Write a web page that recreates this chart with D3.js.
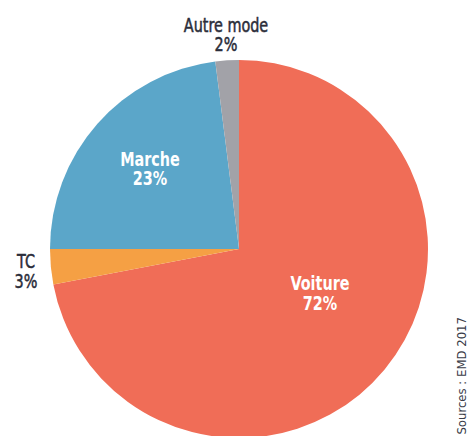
<!DOCTYPE html>
<html>
<head>
<meta charset="utf-8">
<script src="https://cdn.jsdelivr.net/npm/d3@7"></script>
<style>
  html, body { margin: 0; padding: 0; background: #ffffff; }
  svg { display: block; }
  text { font-family: "DejaVu Sans Condensed", "Liberation Sans Narrow", sans-serif; }
</style>
</head>
<body>
<svg id="chart" width="468" height="436"></svg>
<script>
// Modal share of trips (EMD 2017)
const modes   = ["Voiture", "TC", "Marche", "Autre mode"];
const shares  = [72, 3, 23, 2];
const colours = ["#f06d57", "#f5a044", "#5ba6c9", "#a2a2a8"];

const cx = 239, cy = 249, radius = 189;
const squeeze = 0.8;   // narrow the lettering horizontally

const svg = d3.select("#chart");

const data = modes.map((m, i) => ({ mode: m, value: shares[i], colour: colours[i] }));

const pie = d3.pie().value(d => d.value).sort(null);
const arc = d3.arc().innerRadius(0).outerRadius(radius);
const arcs = pie(data);

svg.append("g")
  .attr("transform", `translate(${cx},${cy})`)
  .selectAll("path")
  .data(arcs)
  .join("path")
  .attr("d", arc)
  .attr("fill", d => d.data.colour);

// Label anchors: inside for the large slices, outside for the small ones
const labelPos = {
  "Voiture":    { x: 320, y: 290, fill: "#ffffff", lead: 20 },
  "Marche":     { x: 150, y: 166, fill: "#ffffff", lead: 19 },
  "TC":         { x: 26,  y: 268, fill: "#2b2d3a", lead: 20 },
  "Autre mode": { x: 226, y: 32,  fill: "#2b2d3a", lead: 19 }
};

const labels = svg.append("g");
arcs.forEach(a => {
  const p = labelPos[a.data.mode];
  const t = labels.append("text")
    .attr("transform", `translate(${p.x},${p.y}) scale(${squeeze},1)`)
    .attr("text-anchor", "middle")
    .attr("fill", p.fill)
    .attr("font-size", 20)
    .attr("font-weight", p.fill === "#ffffff" ? "bold" : "normal")
    .attr("stroke", p.fill === "#ffffff" ? "none" : p.fill)
    .attr("stroke-width", 0.5);
  t.append("tspan").attr("x", 0).text(a.data.mode);
  t.append("tspan").attr("x", 0).attr("dy", p.lead).text(a.data.value + "%");
});

// Source note, rotated along the right edge
svg.append("text")
  .attr("transform", "translate(466,317) rotate(-90)")
  .attr("text-anchor", "end")
  .attr("fill", "#3a3c48")
  .attr("font-size", 13)
  .text("Sources : EMD 2017");
</script>
</body>
</html>
